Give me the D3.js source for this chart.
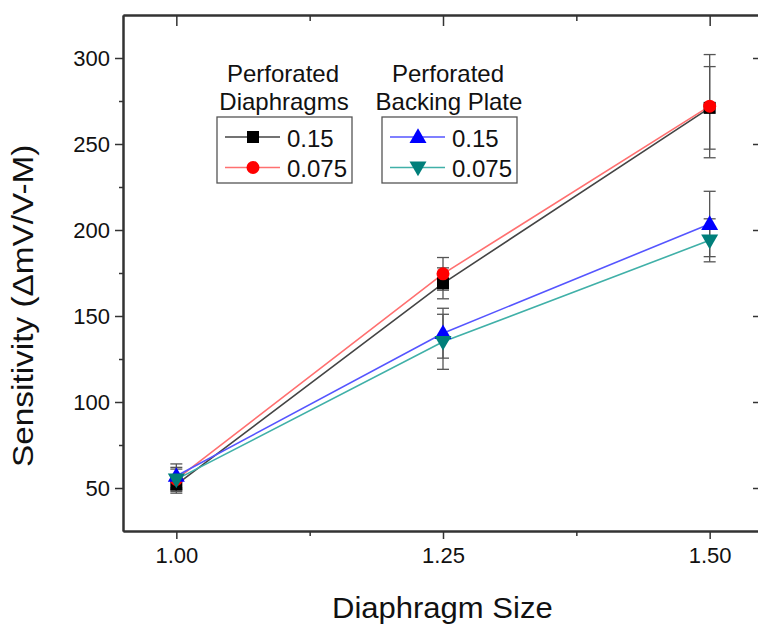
<!DOCTYPE html>
<html>
<head>
<meta charset="utf-8">
<script src="https://cdn.jsdelivr.net/npm/d3@7"></script>
<style>
  body { margin: 0; background: #fff; }
  text { font-family: "Liberation Sans", Arial, sans-serif; fill: #111; }
</style>
</head>
<body>
<script>
// data
const sizes = [1.00, 1.25, 1.50];
const pd015 = [52, 169, 271];      // perforated diaphragms, 0.15
const pd015Err = [5, 9, 24];
const pd0075 = [55, 174.5, 272];   // perforated diaphragms, 0.075
const pd0075Err = [6, 9.5, 30];
const bp015 = [57, 140, 203.5];    // perforated backing plate, 0.15
const bp015Err = [7, 14.5, 19];
const bp0075 = [55, 135, 194];     // perforated backing plate, 0.075
const bp0075Err = [7, 16, 12.5];
const yTicks = [50, 100, 150, 200, 250, 300];
const yMinor = [75, 125, 175, 225, 275];
const xTicks = [1.00, 1.25, 1.50];
const xMinor = [1.125, 1.375];

const series = [
  {name: "0.15", vals: pd015, err: pd015Err, line: "#444", fill: "#000", shape: "square"},
  {name: "0.075", vals: pd0075, err: pd0075Err, line: "#ff7070", fill: "#ff0000", shape: "circle"},
  {name: "0.15", vals: bp015, err: bp015Err, line: "#5555ff", fill: "#0000ff", shape: "up"},
  {name: "0.075", vals: bp0075, err: bp0075Err, line: "#40b0a8", fill: "#007f7a", shape: "down"}
];

const W = 758, H = 629;
const mLeft = 123, mTop = 15, mRight = 763, mBottom = 531;

const svg = d3.select("body").append("svg")
  .attr("width", W).attr("height", H);

const x = d3.scaleLinear().domain([0.95, 1.55]).range([mLeft, mRight]);
const y = d3.scaleLinear().domain([25, 325]).range([mBottom, mTop]);

const axisCol = "#333";

function styleAxis(g) {
  g.selectAll("path").attr("stroke", axisCol).attr("stroke-width", 2);
  g.selectAll("line").attr("stroke", axisCol).attr("stroke-width", 1.5);
  g.selectAll("text").attr("font-family", "Liberation Sans, Arial, sans-serif")
    .attr("font-size", 22).attr("fill", "#111");
}

// left
svg.append("g").attr("transform", "translate(" + mLeft + ",0)")
  .call(d3.axisLeft(y).tickValues(yTicks).tickSize(8).tickPadding(5).tickSizeOuter(0))
  .call(styleAxis);
svg.append("g").attr("transform", "translate(" + mLeft + ",0)")
  .call(d3.axisLeft(y).tickValues(yMinor).tickSize(4).tickFormat("").tickSizeOuter(0))
  .call(styleAxis);
// bottom
svg.append("g").attr("transform", "translate(0," + mBottom + ")")
  .call(d3.axisBottom(x).tickValues(xTicks).tickFormat(d3.format(".2f")).tickSize(8).tickPadding(8).tickSizeOuter(0))
  .call(styleAxis);
svg.append("g").attr("transform", "translate(0," + mBottom + ")")
  .call(d3.axisBottom(x).tickValues(xMinor).tickFormat("").tickSize(5).tickSizeOuter(0))
  .call(styleAxis);
// top (ticks inward)
svg.append("g").attr("transform", "translate(0," + mTop + ")")
  .call(d3.axisTop(x).tickValues(xTicks).tickFormat("").tickSize(-11).tickSizeOuter(0))
  .call(styleAxis);
svg.append("g").attr("transform", "translate(0," + mTop + ")")
  .call(d3.axisTop(x).tickValues(xMinor).tickFormat("").tickSize(-6).tickSizeOuter(0))
  .call(styleAxis);
// right (ticks inward)
svg.append("g").attr("transform", "translate(" + mRight + ",0)")
  .call(d3.axisRight(y).tickValues(yTicks).tickFormat("").tickSize(-10).tickSizeOuter(0))
  .call(styleAxis);
svg.append("g").attr("transform", "translate(" + mRight + ",0)")
  .call(d3.axisRight(y).tickValues(yMinor).tickFormat("").tickSize(-5).tickSizeOuter(0))
  .call(styleAxis);

// axis titles (original lettering is a bit wide, so stretch it along the text)
svg.append("text")
  .attr("transform", "translate(332,618) scale(1.07,1)")
  .attr("font-size", 29)
  .text("Diaphragm Size");
svg.append("text")
  .attr("transform", "translate(33,467) rotate(-90) scale(1.15,1)")
  .attr("font-size", 29)
  .text("Sensitivity (\u0394mV/V-M)");

function drawMarker(g, shape, fill, cx, cy) {
  if (shape === "square") {
    g.append("rect").attr("x", cx - 6).attr("y", cy - 6)
      .attr("width", 12).attr("height", 12).attr("fill", fill);
  } else if (shape === "circle") {
    g.append("circle").attr("cx", cx).attr("cy", cy).attr("r", 6.5).attr("fill", fill);
  } else if (shape === "up") {
    g.append("path").attr("d", d3.symbol().type(d3.symbolTriangle).size(125)())
      .attr("transform", "translate(" + cx + "," + (cy + 1) + ")").attr("fill", fill);
  } else {
    g.append("path").attr("d", d3.symbol().type(d3.symbolTriangle).size(125)())
      .attr("transform", "translate(" + cx + "," + (cy - 1) + ") rotate(180)").attr("fill", fill);
  }
}

const plot = svg.append("g");
const line = d3.line().x(d => x(d[0])).y(d => y(d[1]));

// error bars first
series.forEach(s => {
  const eg = plot.append("g").attr("stroke", "#555").attr("stroke-width", 1.3);
  sizes.forEach((sz, i) => {
    const cx = x(sz), hi = y(s.vals[i] + s.err[i]), lo = y(s.vals[i] - s.err[i]);
    eg.append("line").attr("x1", cx).attr("x2", cx).attr("y1", hi).attr("y2", lo);
    eg.append("line").attr("x1", cx - 6).attr("x2", cx + 6).attr("y1", hi).attr("y2", hi);
    eg.append("line").attr("x1", cx - 6).attr("x2", cx + 6).attr("y1", lo).attr("y2", lo);
  });
});

series.forEach(s => {
  plot.append("path")
    .datum(sizes.map((sz, i) => [sz, s.vals[i]]))
    .attr("fill", "none").attr("stroke", s.line).attr("stroke-width", 1.6)
    .attr("d", line);
});
// markers in order so red sits over black
series.forEach(s => {
  sizes.forEach((sz, i) => drawMarker(plot, s.shape, s.fill, x(sz), y(s.vals[i])));
});

// legends
function legend(x0, titles, items) {
  const g = svg.append("g");
  g.append("text").attr("x", x0 + 66).attr("y", 82).attr("text-anchor", "middle")
    .attr("font-size", 24).text(titles[0]);
  g.append("text").attr("x", x0 + 67).attr("y", 110).attr("text-anchor", "middle")
    .attr("font-size", 24).text(titles[1]);
  g.append("rect").attr("x", x0).attr("y", 117).attr("width", 135).attr("height", 66)
    .attr("fill", "#fff").attr("stroke", "#555").attr("stroke-width", 1.3);
  items.forEach((s, i) => {
    const cy = 137 + i * 30.5;
    g.append("line").attr("x1", x0 + 8).attr("x2", x0 + 63).attr("y1", cy).attr("y2", cy)
      .attr("stroke", s.line).attr("stroke-width", 1.6);
    drawMarker(g, s.shape, s.fill, x0 + 36, cy);
    g.append("text").attr("x", x0 + 70).attr("y", cy + 9.5).attr("font-size", 24).text(s.name);
  });
}
legend(217, ["Perforated", "Diaphragms"], series.slice(0, 2));
legend(382, ["Perforated", "Backing Plate"], series.slice(2, 4));
</script>
</body>
</html>
